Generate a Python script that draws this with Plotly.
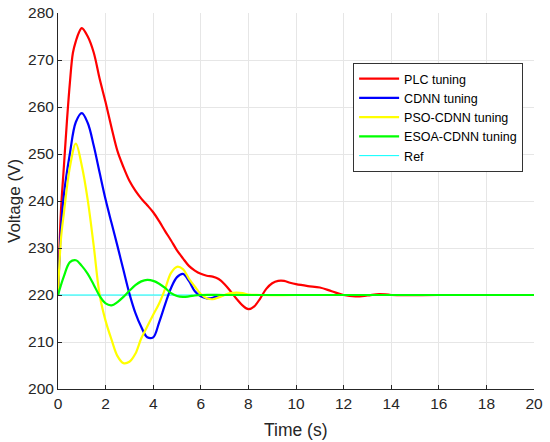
import plotly.graph_objects as go

# Time (s) / Voltage (V) samples
plc_t = [0, 0.125, 0.25, 0.375, 0.5, 0.625, 0.75, 0.875, 1.0, 1.25, 1.5, 1.75, 2.0, 2.25, 2.5, 2.75, 3.0, 3.25, 3.5, 3.75, 4.0, 4.25, 4.5, 4.75, 5.0, 5.25, 5.5, 5.75, 6.0, 6.25, 6.5, 6.75, 7.0, 7.25, 7.5, 7.75, 8.0, 8.25, 8.5, 8.75, 9.0, 9.25, 9.5, 9.75, 10.0, 10.5, 11.0, 11.5, 12.0, 12.5, 13.0, 13.5, 14.0, 16.0, 18.0, 20.0]
plc_v = [220, 238, 247.5, 257, 265.2, 271.5, 274, 275.8, 276.8, 275, 271.6, 266, 261, 255.6, 250.6, 247.2, 244.3, 242.2, 240.5, 239.1, 237.6, 235.7, 233.6, 231.6, 229.5, 227.8, 226.2, 225.2, 224.5, 224.1, 223.9, 223.4, 222.3, 220.8, 219.2, 217.8, 217, 217.6, 219.3, 221.3, 222.5, 223, 223, 222.6, 222.3, 221.9, 221.6, 220.8, 220, 219.7, 219.9, 220.2, 220, 220, 220, 220]

cdnn_t = [0, 0.125, 0.25, 0.5, 0.75, 1.0, 1.25, 1.5, 1.75, 2.0, 2.25, 2.5, 2.75, 3.0, 3.25, 3.5, 3.75, 4.0, 4.25, 4.5, 4.75, 5.0, 5.25, 5.5, 5.75, 6.0, 6.25, 6.5, 6.75, 7.0, 8.0, 10.0, 12.0, 14.0, 16.0, 18.0, 20.0]
cdnn_v = [220, 234, 241.5, 250.1, 256.8, 258.7, 256.6, 251.8, 246, 240.3, 235.3, 230.4, 225.3, 220.3, 216.2, 213.2, 211, 211, 214.2, 218, 221.5, 223.8, 224.5, 223, 220.8, 219.7, 219.3, 219.4, 219.8, 220, 220, 220, 220, 220, 220, 220, 220]

pso_t = [0, 0.125, 0.25, 0.5, 0.75, 1.0, 1.25, 1.5, 1.75, 2.0, 2.25, 2.5, 2.75, 3.0, 3.25, 3.5, 3.75, 4.0, 4.25, 4.5, 4.75, 5.0, 5.25, 5.5, 5.75, 6.0, 6.25, 6.5, 6.75, 7.0, 7.25, 7.5, 7.75, 8.0, 8.5, 10.0, 12.0, 14.0, 16.0, 18.0, 20.0]
pso_v = [220, 232, 237.5, 247.2, 252.2, 247.5, 240.2, 230.5, 220, 214.5, 210.5, 207, 205.5, 205.8, 207.5, 210.8, 213.3, 215.8, 218.2, 221.3, 224.7, 226, 225.5, 223.5, 221.8, 220.2, 219.3, 219.1, 219.5, 220, 220.4, 220.5, 220.4, 220.1, 220, 220, 220, 220, 220, 220, 220]

esoa_t = [0, 0.25, 0.5, 0.75, 1.0, 1.25, 1.5, 1.75, 2.0, 2.25, 2.5, 2.75, 3.0, 3.25, 3.5, 3.75, 4.0, 4.25, 4.5, 4.75, 5.0, 5.25, 5.5, 5.75, 6.0, 7.0, 8.0, 10.0, 12.0, 14.0, 16.0, 18.0, 20.0]
esoa_v = [220, 224, 227, 227.4, 226.2, 224.5, 222.2, 219.8, 218.2, 217.8, 218.5, 219.6, 220.9, 222.1, 222.9, 223.2, 223, 222.4, 221.5, 220.4, 219.8, 219.6, 219.7, 219.9, 220, 220, 220, 220, 220, 220, 220, 220, 220]

ref_t = [0, 20]
ref_v = [220, 220]

x_ticks = [0, 2, 4, 6, 8, 10, 12, 14, 16, 18, 20]
y_ticks = [200, 210, 220, 230, 240, 250, 260, 270, 280]

FONT = "Liberation Sans, Arial, sans-serif"
DARK = "#262626"

fig = go.Figure()
fig.add_trace(go.Scatter(x=ref_t, y=ref_v, mode="lines", name="Ref",
                         line=dict(color="#00FFFF", width=1), legendrank=5))
series = [
    ("PLC tuning", plc_t, plc_v, "#FF0000"),
    ("CDNN tuning", cdnn_t, cdnn_v, "#0000FF"),
    ("PSO-CDNN tuning", pso_t, pso_v, "#FFFF00"),
    ("ESOA-CDNN tuning", esoa_t, esoa_v, "#00FF00"),
]
for i, (name, t, v, c) in enumerate(series):
    fig.add_trace(go.Scatter(x=t, y=v, mode="lines", name=name,
                             line=dict(color=c, width=2.2, shape="spline", smoothing=1.0),
                             legendrank=i + 1))

axis_common = dict(
    showgrid=True, gridcolor="#E6E6E6", gridwidth=1,
    showline=True, linecolor=DARK, linewidth=1,
    ticks="inside", ticklen=4, tickcolor=DARK,
    tickfont=dict(family=FONT, size=15.5, color=DARK),
    zeroline=False, automargin=False,
)
fig.update_xaxes(range=[0, 20], tickvals=x_ticks, **axis_common)
fig.update_yaxes(range=[200, 280], tickvals=y_ticks, **axis_common)

fig.add_annotation(text="Time (s)", xref="paper", yref="paper", x=0.5, y=-0.109,
                   xanchor="center", yanchor="middle", showarrow=False,
                   font=dict(family=FONT, size=17.5, color=DARK))
fig.add_annotation(text="Voltage (V)", xref="paper", yref="paper", x=-0.0924, y=0.5,
                   xanchor="center", yanchor="middle", showarrow=False, textangle=-90,
                   font=dict(family=FONT, size=17, color=DARK))

fig.update_layout(
    width=550, height=442,
    margin=dict(l=58, r=16, t=13, b=53),
    paper_bgcolor="white", plot_bgcolor="white",
    showlegend=True,
    legend=dict(x=0.62, y=0.867, xanchor="left", yanchor="top",
                bgcolor="white", bordercolor="#333333", borderwidth=1,
                font=dict(family=FONT, size=12.5, color="#000000"),
                tracegroupgap=0, itemwidth=40),
)

fig.write_html("out.html", config={"displayModeBar": False},
               post_script="document.body.style.margin='0';")
